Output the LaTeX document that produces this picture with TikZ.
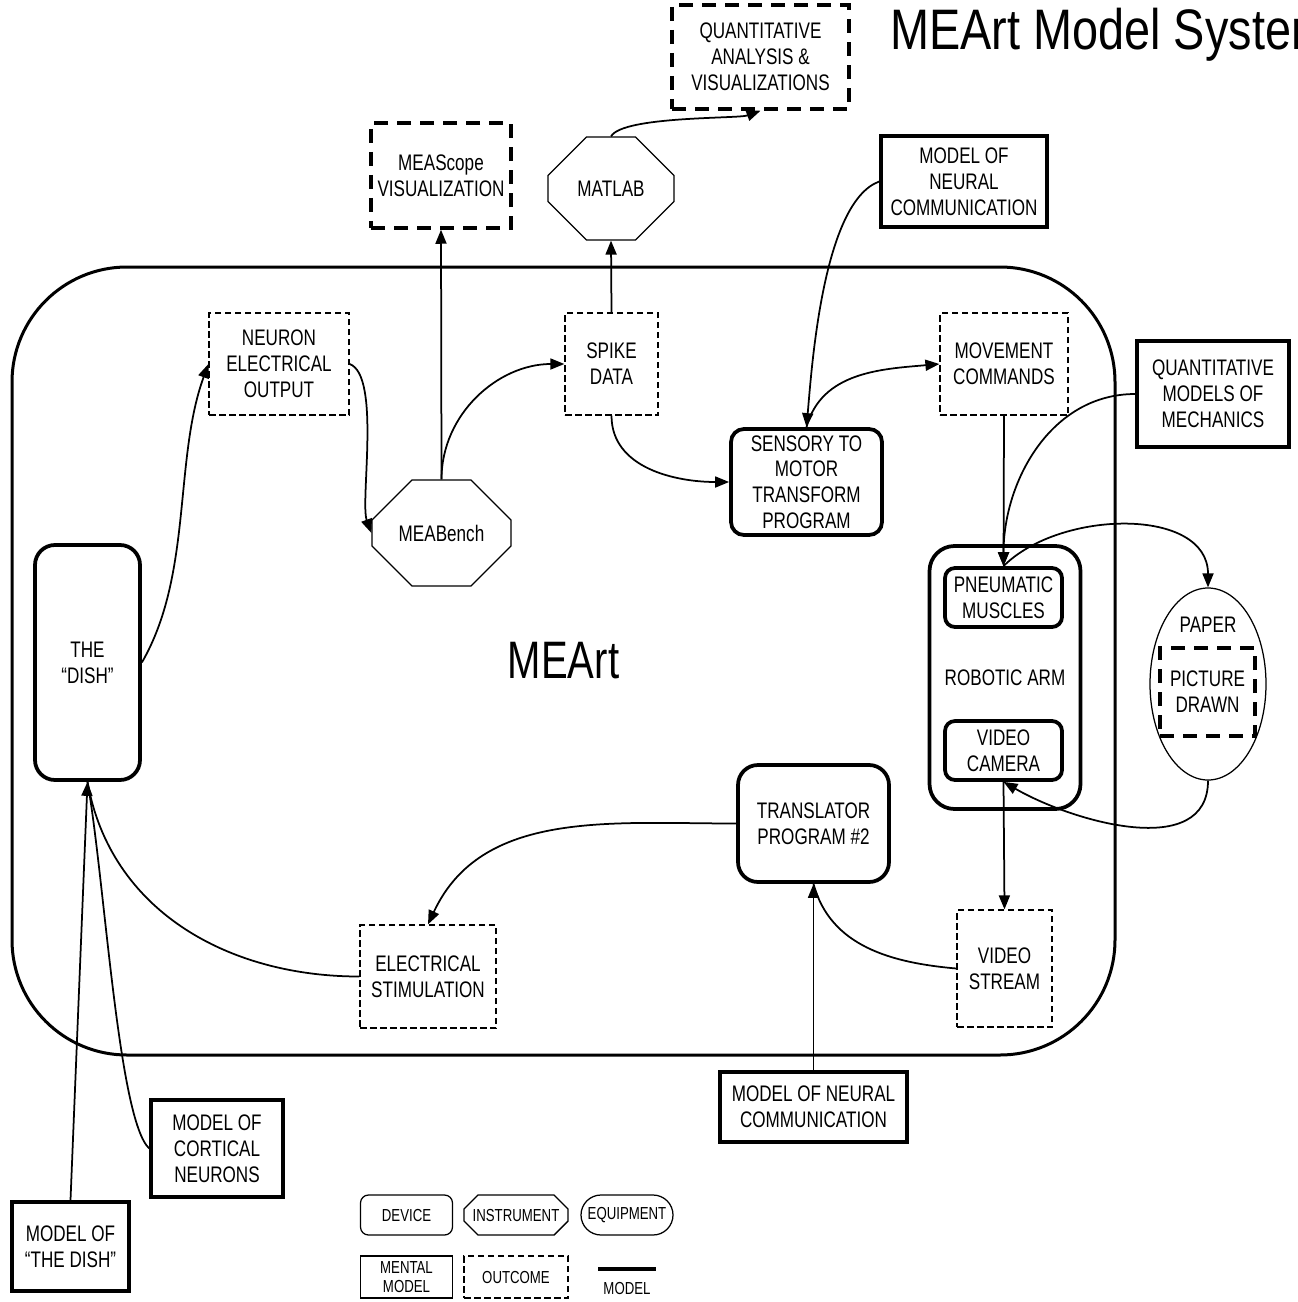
\documentclass[tikz,border=0pt]{standalone}
\usepackage{fontspec}
\setmainfont{Liberation Sans}[FakeStretch=0.76]
\newfontfamily\titlefont{Liberation Sans}[FakeStretch=0.82]
\usetikzlibrary{shapes.geometric,shapes.misc,arrows.meta}

\begin{document}
\begin{tikzpicture}[
  font=\fontsize{12.8}{14.7}\selectfont,
  box/.style={align=center,inner sep=1pt},
  device/.style={box,draw,line width=0.75mm,rounded corners=3.5mm},
  instr/.style={box,draw,line width=0.25mm,chamfered rectangle},
  mental/.style={box,draw,line width=0.7mm},
  outcome/.style={box,draw,line width=0.25mm,dash pattern=on 1.3mm off 0.7mm},
  bigoutcome/.style={box,draw,line width=0.7mm,dash pattern=on 2.8mm off 1.8mm},
  link/.style={line width=0.35mm},
  flow/.style={link,-{Triangle[length=2.8mm,width=2.2mm]}},
  legend/.style={box,font=\fontsize{9.9}{11.2}\selectfont,line width=0.25mm,
    minimum width=1.84cm,minimum height=0.8cm}
]
\useasboundingbox (0,0) rectangle (25.96,-26.04);
%% ─── Title ──────────────────────────────────────────────────────────────────
\begin{scope}
  \clip (0,0) rectangle (25.96,-26.04);
  \node[anchor=base west,inner sep=0pt,font=\titlefont\fontsize{32.5}{35}\selectfont]
    (title) at (17.8,-1.0) {MEArt Model System};
\end{scope}
%% ─── MEArt frame ────────────────────────────────────────────────────────────
\node[draw,line width=0.6mm,rounded corners=2.3cm,minimum width=22.06cm,
  minimum height=15.76cm,font=\fontsize{30}{33}\selectfont]
  (meart) at (11.27,-13.22) {MEArt};
%% ─── Top row ────────────────────────────────────────────────────────────────
\node[bigoutcome,minimum width=3.54cm,minimum height=2.08cm] (quant) at (15.21,-1.14)
  {QUANTITATIVE\\ANALYSIS \&\\VISUALIZATIONS};
\node[bigoutcome,minimum width=2.8cm,minimum height=2.1cm] (scope) at (8.82,-3.51)
  {MEAScope\\VISUALIZATION};
\node[instr,minimum width=2.52cm,minimum height=2.06cm,
  chamfered rectangle xsep=0.48cm,chamfered rectangle ysep=0.58cm]
  (matlab) at (12.22,-3.77) {MATLAB};
\node[mental,minimum width=3.32cm,minimum height=1.82cm] (nctop) at (19.28,-3.63)
  {MODEL OF\\NEURAL\\COMMUNICATION};
%% ─── Inside the frame ───────────────────────────────────────────────────────
\node[outcome,minimum width=2.8cm,minimum height=2.04cm] (neo) at (5.58,-7.28)
  {NEURON\\ELECTRICAL\\OUTPUT};
\node[outcome,minimum width=1.86cm,minimum height=2.04cm] (spike) at (12.23,-7.28)
  {SPIKE\\DATA};
\node[outcome,minimum width=2.56cm,minimum height=2.04cm] (move) at (20.08,-7.28)
  {MOVEMENT\\COMMANDS};
\node[instr,minimum width=2.78cm,minimum height=2.12cm,
  chamfered rectangle xsep=0.48cm,chamfered rectangle ysep=0.6cm]
  (bench) at (8.83,-10.66) {MEABench};
\node[device,rounded corners=2.6mm,minimum width=3.02cm,minimum height=2.12cm]
  (sens) at (16.13,-9.64) {SENSORY TO\\MOTOR\\TRANSFORM\\PROGRAM};
\node[device,rounded corners=4mm,minimum width=2.1cm,minimum height=4.7cm]
  (dish) at (1.75,-13.25) {THE\\“DISH”};
\node[device,rounded corners=5mm,minimum width=3.02cm,minimum height=5.26cm]
  (arm) at (20.1,-13.55) {ROBOTIC ARM};
\node[device,rounded corners=2mm,minimum width=2.34cm,minimum height=1.18cm]
  (pneu) at (20.07,-11.95) {PNEUMATIC\\MUSCLES};
\node[device,rounded corners=2mm,minimum width=2.34cm,minimum height=1.18cm]
  (cam) at (20.07,-15.01) {VIDEO\\CAMERA};
\node[device,rounded corners=4mm,minimum width=3.02cm,minimum height=2.34cm]
  (trans) at (16.27,-16.47) {TRANSLATOR\\PROGRAM \#2};
\node[outcome,minimum width=1.9cm,minimum height=2.34cm] (vstream) at (20.09,-19.37)
  {VIDEO\\STREAM};
\node[outcome,minimum width=2.72cm,minimum height=2.06cm] (estim) at (8.56,-19.53)
  {ELECTRICAL\\STIMULATION};
%% ─── Right of the frame ─────────────────────────────────────────────────────
\node[mental,minimum width=3.04cm,minimum height=2.12cm] (qmm) at (24.26,-7.88)
  {QUANTITATIVE\\MODELS OF\\MECHANICS};
\node[draw,ellipse,line width=0.25mm,minimum width=2.32cm,minimum height=3.84cm,
  inner sep=0pt] (paper) at (24.16,-13.68) {};
\node[box] (papertxt) at (24.16,-12.5) {PAPER};
\node[bigoutcome,minimum width=1.9cm,minimum height=1.76cm] (pic) at (24.15,-13.84)
  {PICTURE\\DRAWN};
%% ─── Below the frame ────────────────────────────────────────────────────────
\node[mental,minimum width=3.74cm,minimum height=1.4cm] (ncbot) at (16.27,-22.14)
  {MODEL OF NEURAL\\COMMUNICATION};
\node[mental,minimum width=2.64cm,minimum height=1.94cm] (cort) at (4.34,-22.97)
  {MODEL OF\\CORTICAL\\NEURONS};
\node[mental,minimum width=2.34cm,minimum height=1.78cm] (mdish) at (1.41,-24.93)
  {MODEL OF\\“THE DISH”};
%% ─── Connectors ─────────────────────────────────────────────────────────────
\draw[flow] (dish.east) to[out=60,in=-110,looseness=0.85] (neo.west);
\draw[flow] (neo.east) to[out=-20,in=110,looseness=0.5] (bench.west);
\draw[flow] (bench.north) -- (scope.south);
\draw[flow] (bench.north) to[out=90,in=180] (spike.west);
\draw[flow] (spike.north) -- (matlab.south);
\draw[flow] (matlab.north) to[out=60,in=200,looseness=0.4] (quant.south);
\draw[flow] (spike.south) to[out=-90,in=180] (sens.west);
\draw[flow] (nctop.west) to[out=200,in=85,looseness=0.6] (sens.north);
\draw[flow] (sens.north) to[out=75,in=185] (move.west);
\draw[flow] (move.south) -- (pneu.north);
\draw[flow] (qmm.west) to[out=180,in=90] (pneu.north);
\draw[flow] (pneu.north) to[out=45,in=90] (paper.north);
\draw[flow] (paper.south) to[out=-90,in=-30] (cam.south);
\draw[flow] (cam.south) -- (vstream.north);
\draw[link] (vstream.west) to[out=175,in=-75] (trans.south);
\draw[flow] (ncbot.north) -- (trans.south);
\draw[flow] (trans.west) to[out=180,in=65] (estim.north);
\draw[link] (estim.west) to[out=180,in=-80] (dish.south);
\draw[link] (cort.west) .. controls +(-0.62,0.57) and +(0.35,-2.0) .. (dish.south);
\draw[flow] (mdish.north) -- (dish.south);
%% ─── Legend ─────────────────────────────────────────────────────────────────
\node[legend,draw,rounded corners=1.6mm] (lgdev) at (8.13,-24.3) {DEVICE};
\node[legend,draw,chamfered rectangle,minimum width=2.08cm,
  chamfered rectangle xsep=0.14cm,chamfered rectangle ysep=0.14cm]
  (lginstr) at (10.32,-24.3) {INSTRUMENT};
\node[legend,draw,rounded corners=4mm] (lgequip) at (12.54,-24.3) {EQUIPMENT};
\node[legend,draw,minimum height=0.84cm] (lgmental) at (8.13,-25.54) {MENTAL\\MODEL};
\node[legend,draw,dash pattern=on 1.3mm off 0.7mm,minimum width=2.08cm,
  minimum height=0.84cm] (lgout) at (10.32,-25.54) {OUTCOME};
\draw[line width=0.8mm] (11.96,-25.38) -- (13.12,-25.38);
\node[legend,minimum height=0pt] (lgmodel) at (12.54,-25.76) {MODEL};
\end{tikzpicture}
\end{document}
